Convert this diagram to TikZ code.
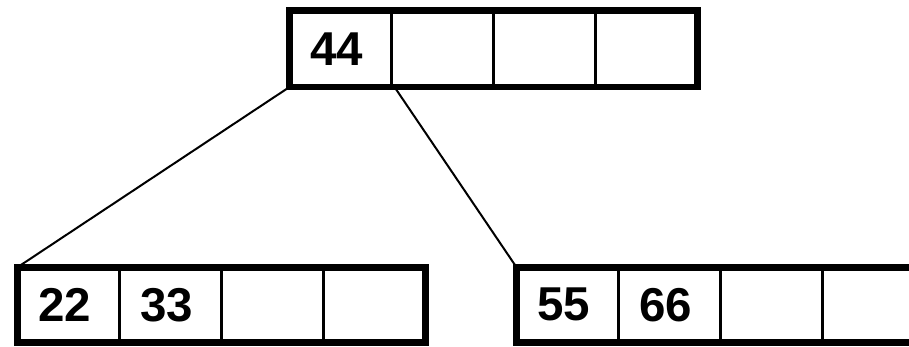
\documentclass[tikz,border=0pt]{standalone}
\usepackage{fontspec}
\setmainfont{Liberation Sans}
\begin{document}
\begin{tikzpicture}[x=1pt,y=-1pt,
  cell/.style={draw, line width=3pt, minimum height=75pt, text width=60pt,
    inner xsep=21pt, inner ysep=0pt, align=left, outer sep=0pt, anchor=west,
    font=\bfseries\fontsize{47.5}{50}\selectfont},
  frame/.style={line width=6.5pt},
  link/.style={line width=2pt}]
\clip (0,0) rectangle (909,346);
% top node
\node[cell, minimum height=76.5pt] (a1) at (289.5,48.75) {44};
\node[cell, minimum height=76.5pt] (a2) at (a1.east) {};
\node[cell, minimum height=76.5pt] (a3) at (a2.east) {};
\node[cell, minimum height=76.5pt] (a4) at (a3.east) {};
\draw[frame] (a1.north west) rectangle (a4.south east);
% bottom left node
\node[cell] (b1) at (17.5,304.75) {22};
\node[cell] (b2) at (b1.east) {33};
\node[cell] (b3) at (b2.east) {};
\node[cell] (b4) at (b3.east) {};
\draw[frame] (b1.north west) rectangle (b4.south east);
% bottom right node
\node[cell] (c1) at (516.5,304.75) {55};
\node[cell] (c2) at (c1.east) {66};
\node[cell] (c3) at (c2.east) {};
\node[cell] (c4) at (c3.east) {};
\draw[frame] (c1.north west) rectangle (c4.south east);
% links
\draw[link] (a1.south west) -- (b1.north west);
\draw[link] ([xshift=3pt]a2.south west) -- (c1.north west);
\end{tikzpicture}
\end{document}
